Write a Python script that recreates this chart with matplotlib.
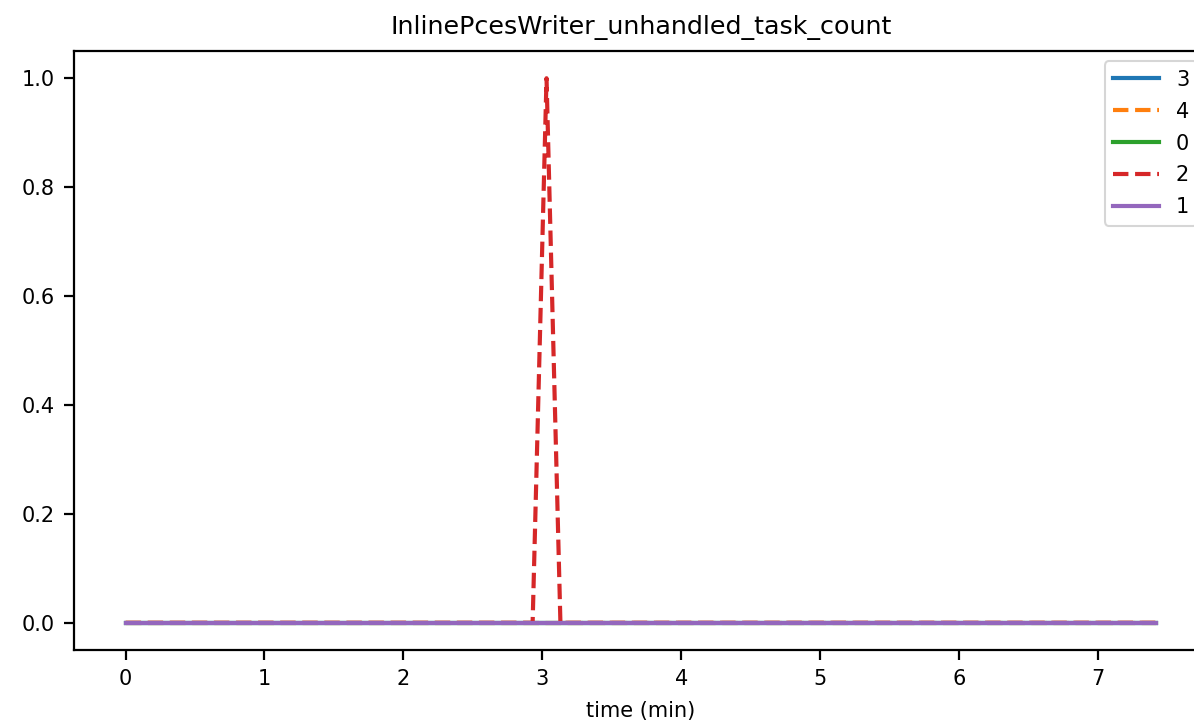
import numpy as np
import matplotlib.pyplot as plt

# series labels in legend order
labels = ['3', '4', '0', '2', '1']
styles = ['-', '--', '-', '--', '-']

# time points (min) and values
t_end = 7.42
t_flat = [0.0, t_end]
y_flat = [0, 0]
t_spike = [0.0, 2.93, 3.03, 3.13, t_end]
y_spike = [0, 0, 1, 0, 0]

series = {
    '3': (t_flat, y_flat),
    '4': (t_flat, y_flat),
    '0': (t_flat, y_flat),
    '2': (t_spike, y_spike),
    '1': (t_flat, y_flat),
}

# the original was saved at a higher dpi, so ticks/lines come out a bit heavier
k = 4 / 3
plt.rcParams.update({
    'axes.linewidth': 0.8 * k,
    'xtick.major.size': 3.5 * k, 'ytick.major.size': 3.5 * k,
    'xtick.major.width': 0.8 * k, 'ytick.major.width': 0.8 * k,
    'xtick.major.pad': 3.5 * k, 'ytick.major.pad': 3.5 * k,
    'axes.titlepad': 6 * k, 'axes.labelpad': 4 * k,
    'legend.edgecolor': '0.8',
})

fig = plt.figure(figsize=(1194 / 150, 722 / 150), dpi=150)
# axes runs past the right edge, like the cropped original
ax = fig.add_axes([74 / 1194, 1 - 650 / 722, (1208 - 74) / 1194, (650 - 51) / 722])

for lab, ls in zip(labels, styles):
    x, y = series[lab]
    ax.plot(x, y, ls, label=lab, lw=1.5 * k)

ax.set_title('InlinePcesWriter_unhandled_task_count', fontsize=12.2)
ax.set_xlabel('time (min)')
ax.spines['right'].set_visible(False)
ax.legend(loc='upper right', labelspacing=0.57, handlelength=2.2)

fig.savefig('out.png', dpi=150)
